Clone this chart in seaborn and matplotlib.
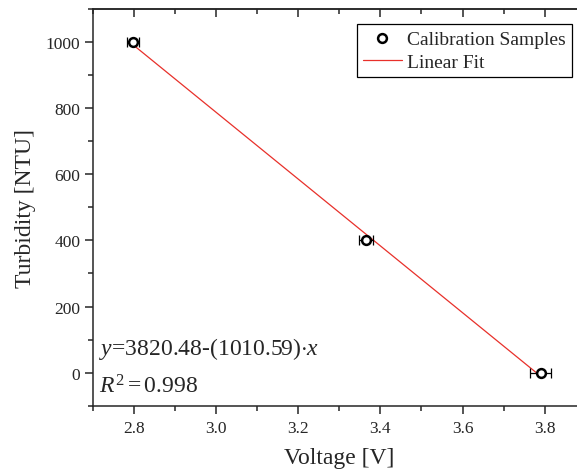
import numpy as np
import pandas as pd
import seaborn as sns
from matplotlib import pyplot as plt
from matplotlib.ticker import MultipleLocator

# calibration data
voltage = [2.798, 3.365, 3.790]
voltage_err = [0.015, 0.017, 0.025]
turbidity = [1000, 400, 0]
fit_text = r"$y$=3820.48-(1010.59)$\cdot x$"
r2_text = r"$R^2=0.998$"

df = pd.DataFrame({"Voltage": voltage, "Turbidity": turbidity, "err": voltage_err})

sns.set_style("ticks")
plt.rcParams['font.family'] = ['Liberation Serif', 'DejaVu Serif']
plt.rcParams['mathtext.fontset'] = 'custom'
plt.rcParams['mathtext.rm'] = 'Liberation Serif'
plt.rcParams['mathtext.it'] = 'Liberation Serif:italic'

fig = plt.figure(figsize=(5.77, 4.77), dpi=100)
ax = fig.add_axes([0.1607, 0.1474, 0.8546, 0.8316])

# fit line
sns.regplot(data=df, x="Voltage", y="Turbidity", scatter=False, ci=None, truncate=True,
            color="#e8302a", line_kws={"linewidth": 0.9}, label="Linear Fit", ax=ax)

ax.errorbar(df["Voltage"], df["Turbidity"], xerr=df["err"], fmt="none",
            ecolor="black", elinewidth=0.9, capsize=3.5, capthick=0.9, zorder=3)
sns.scatterplot(data=df, x="Voltage", y="Turbidity", marker="o", s=40,
                facecolor="white", edgecolor="black", linewidth=1.8,
                label="Calibration Samples", zorder=4, ax=ax)

ax.text(0.012, 0.1305, fit_text, transform=ax.transAxes, fontsize=17, va="baseline")
ax.text(0.012, 0.034, r2_text, transform=ax.transAxes, fontsize=17, va="baseline")

ax.set_xlim(2.7, 3.9)
ax.set_ylim(-100, 1100)
ax.xaxis.set_minor_locator(MultipleLocator(0.1))
ax.yaxis.set_major_locator(MultipleLocator(200))
ax.yaxis.set_minor_locator(MultipleLocator(100))
ax.set_xticks(np.arange(2.8, 3.81, 0.2))
ax.set_xticklabels(["2.8", "3.0", "3.2", "3.4", "3.6", "3.8"])
ax.tick_params(which="major", direction="out", length=5.5, width=1.1, labelsize=12.5)
ax.tick_params(axis="x", which="major", pad=5)
ax.tick_params(which="minor", direction="out", length=3.5, width=1.1)

top = ax.secondary_xaxis("top")
top.set_xticks(np.arange(2.8, 3.81, 0.2))
top.xaxis.set_minor_locator(MultipleLocator(0.1))
top.tick_params(which="major", direction="in", length=5.5, width=1.1, labeltop=False)
top.tick_params(which="minor", direction="in", length=3.5, width=1.1)
top.spines["top"].set_linewidth(1.1)

for side in ["left", "bottom", "top"]:
    ax.spines[side].set_linewidth(1.1)
    ax.spines[side].set_visible(True)
ax.spines["right"].set_visible(False)

ax.set_xlabel("Voltage [V]", fontsize=17, labelpad=8)
ax.set_ylabel("Turbidity [NTU]", fontsize=17, labelpad=7)

handles, labels = ax.get_legend_handles_labels()
order = [labels.index("Calibration Samples"), labels.index("Linear Fit")]
leg = ax.legend([handles[i] for i in order], [labels[i] for i in order],
                loc="upper right", bbox_to_anchor=(0.972, 0.962), fontsize=14,
                frameon=True, fancybox=False, edgecolor="black", framealpha=1,
                borderpad=0.3, handlelength=2.0, handletextpad=0.3, labelspacing=0.3,
                borderaxespad=0)
leg.get_frame().set_linewidth(0.9)

fig.savefig("out.png", dpi=100)
